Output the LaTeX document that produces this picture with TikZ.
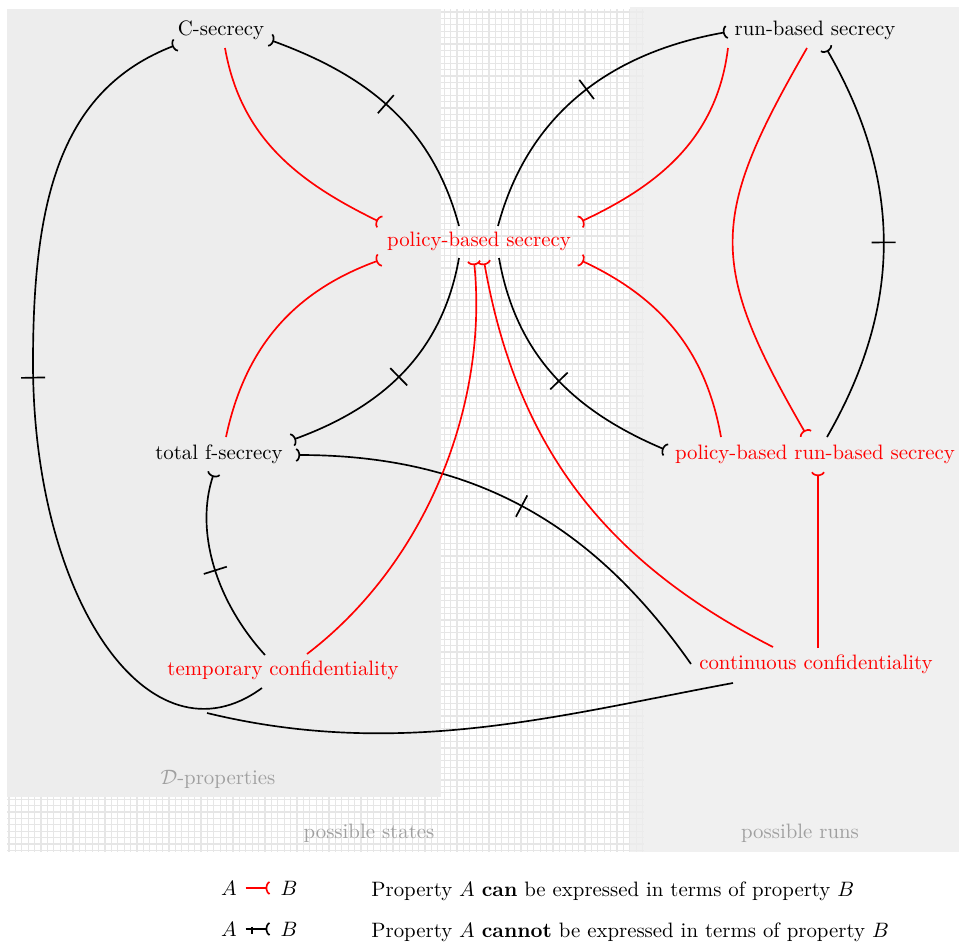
\documentclass[tikz,border=0pt]{standalone}
\usetikzlibrary{arrows.meta,decorations.markings}
\definecolor{regiongray}{RGB}{237,237,237}
\definecolor{gridgray}{RGB}{230,230,230}
\definecolor{labelgray}{RGB}{160,160,160}
\begin{document}
\begin{tikzpicture}[x=0.48pt,y=-0.48pt,
  prop/.style={inner sep=2pt},
  canprop/.style={prop,text=red},
  region/.style={text=labelgray},
  legendsym/.style={inner sep=0pt},
  cup/.style={-{Arc Barb[reversed,arc=150,length=2.4pt,width=6.8pt]}},
  can/.style={draw=red,line width=0.8pt,cup},
  plainline/.style={draw=black,line width=0.8pt},
  cannot/.style={draw=black,line width=0.8pt,cup,
    postaction={decorate,decoration={markings,
      mark=at position #1 with {\draw[-,black,line width=0.8pt] (0,-5.8pt) -- (0,5.8pt);}}}},
  cannot/.default=0.5,
  cannotsmall/.style={draw=black,line width=0.8pt,cup,
    postaction={decorate,decoration={markings,
      mark=at position #1 with {\draw[-,black,line width=0.8pt] (0,-2.8pt) -- (0,2.8pt);}}}},
  cannotsmall/.default=0.35
]
\useasboundingbox (0,0) rectangle (959,947);

% possible states: gridded area
\begin{scope}
  \clip (7,9) rectangle (644,852);
  \foreach \gx in {9,15.4,...,644} \draw[gridgray,line width=0.6pt] (\gx,9) -- (\gx,852);
  \foreach \gy in {12,18.4,...,852} \draw[gridgray,line width=0.6pt] (7,\gy) -- (644,\gy);
\end{scope}
% D-properties
\fill[regiongray] (7,9) rectangle (441,797);
% possible runs
\fill[regiongray,opacity=0.85] (630,7) rectangle (959,852);

\node[region] (dlab) at (218,779) {$\mathcal{D}$-properties};
\node[region] (slab) at (369,833) {possible states};
\node[region] (rlab) at (800,833) {possible runs};

% properties
\node[prop] (cs) at (221,30) {C-secrecy};
\node[prop] (rbs) at (815,30) {run-based secrecy};
\node[canprop] (pbs) at (479,241) {policy-based secrecy};
\node[prop] (tfs) at (219,454) {total f-secrecy};
\node[canprop] (pbrbs) at (815,454) {policy-based run-based secrecy};
\node[canprop] (tc) at (283,670) {temporary confidentiality};
\node[canprop] (cc) at (816,664) {continuous confidentiality};
\coordinate (join) at (207,713);

% cannot be expressed
\draw[cannot=0.52] ([shift={(-20,-15)}]pbs.center) to[out=105,in=-20] ([shift={(49,10)}]cs.center);
\draw[cannot=0.545] ([shift={(-21,18)}]tc.center) .. controls (150,770) and (33,600) .. (33,363)
  .. controls (33,200) and (60,90) .. ([shift={(-45,15)}]cs.center);
\draw[cannot=0.52] ([shift={(19,-15)}]pbs.center) to[out=75,in=190] ([shift={(-88,2)}]rbs.center);
\draw[cannot] ([shift={(12,-17)}]pbrbs.center) to[out=60,in=-60] ([shift={(11,18)}]rbs.center);
\draw[cannot=0.52] ([shift={(-20,17)}]pbs.center) to[out=-100,in=20] ([shift={(73,-14)}]tfs.center);
\draw[cannot=0.52] ([shift={(20,17)}]pbs.center) to[out=-80,in=157] ([shift={(-149,-4)}]pbrbs.center);
\draw[cannot=0.5] ([shift={(-18,-15)}]tc.center) .. controls (215,600) and (195,530) .. ([shift={(-5,19)}]tfs.center);
\draw[cannot=0.5] ([shift={(-125,0)}]cc.center) to[out=125,in=0] ([shift={(77,1)}]tfs.center);
\draw[plainline] ([shift={(-83,19)}]cc.center) .. controls (560,715) and (400,760) .. (join);

% can be expressed
\draw[can] ([shift={(4,18)}]cs.center) to[out=-80,in=154] ([shift={(-99,-19)}]pbs.center);
\draw[can] ([shift={(7,-17)}]tfs.center) to[out=78,in=-160] ([shift={(-99,19)}]pbs.center);
\draw[can] ([shift={(-87,18)}]rbs.center) to[out=-97,in=25] ([shift={(101,-19)}]pbs.center);
\draw[can] ([shift={(-94,-17)}]pbrbs.center) to[out=100,in=-25] ([shift={(101,19)}]pbs.center);
\draw[can] ([shift={(-8,18)}]rbs.center) to[out=-120,in=120,looseness=1.3] ([shift={(-9,-20)}]pbrbs.center);
\draw[can] ([shift={(2,-16)}]cc.center) -- ([shift={(3,18)}]pbrbs.center);
\draw[can] ([shift={(24,-16)}]tc.center) .. controls (430,560) and (488,400) .. ([shift={(-5,20)}]pbs.center);
\draw[can] ([shift={(-43,-17)}]cc.center) to[out=153,in=-80] ([shift={(5,20)}]pbs.center);

% legend
\node[legendsym] (la1) at (229,888) {$A$};
\node[legendsym] (lb1) at (289,888) {$B$};
\node[legendsym] (la2) at (229,929) {$A$};
\node[legendsym] (lb2) at (289,929) {$B$};
\draw[can,shorten <=4pt,shorten >=5pt] (la1) -- (lb1);
\draw[cannotsmall,shorten <=4pt,shorten >=5pt] (la2) -- (lb2);
\node[anchor=base west,inner sep=0pt] (lt1) at (371,896) {Property $A$ \textbf{can} be expressed in terms of property $B$};
\node[anchor=base west,inner sep=0pt] (lt2) at (371,937) {Property $A$ \textbf{cannot} be expressed in terms of property $B$};
\end{tikzpicture}
\end{document}
